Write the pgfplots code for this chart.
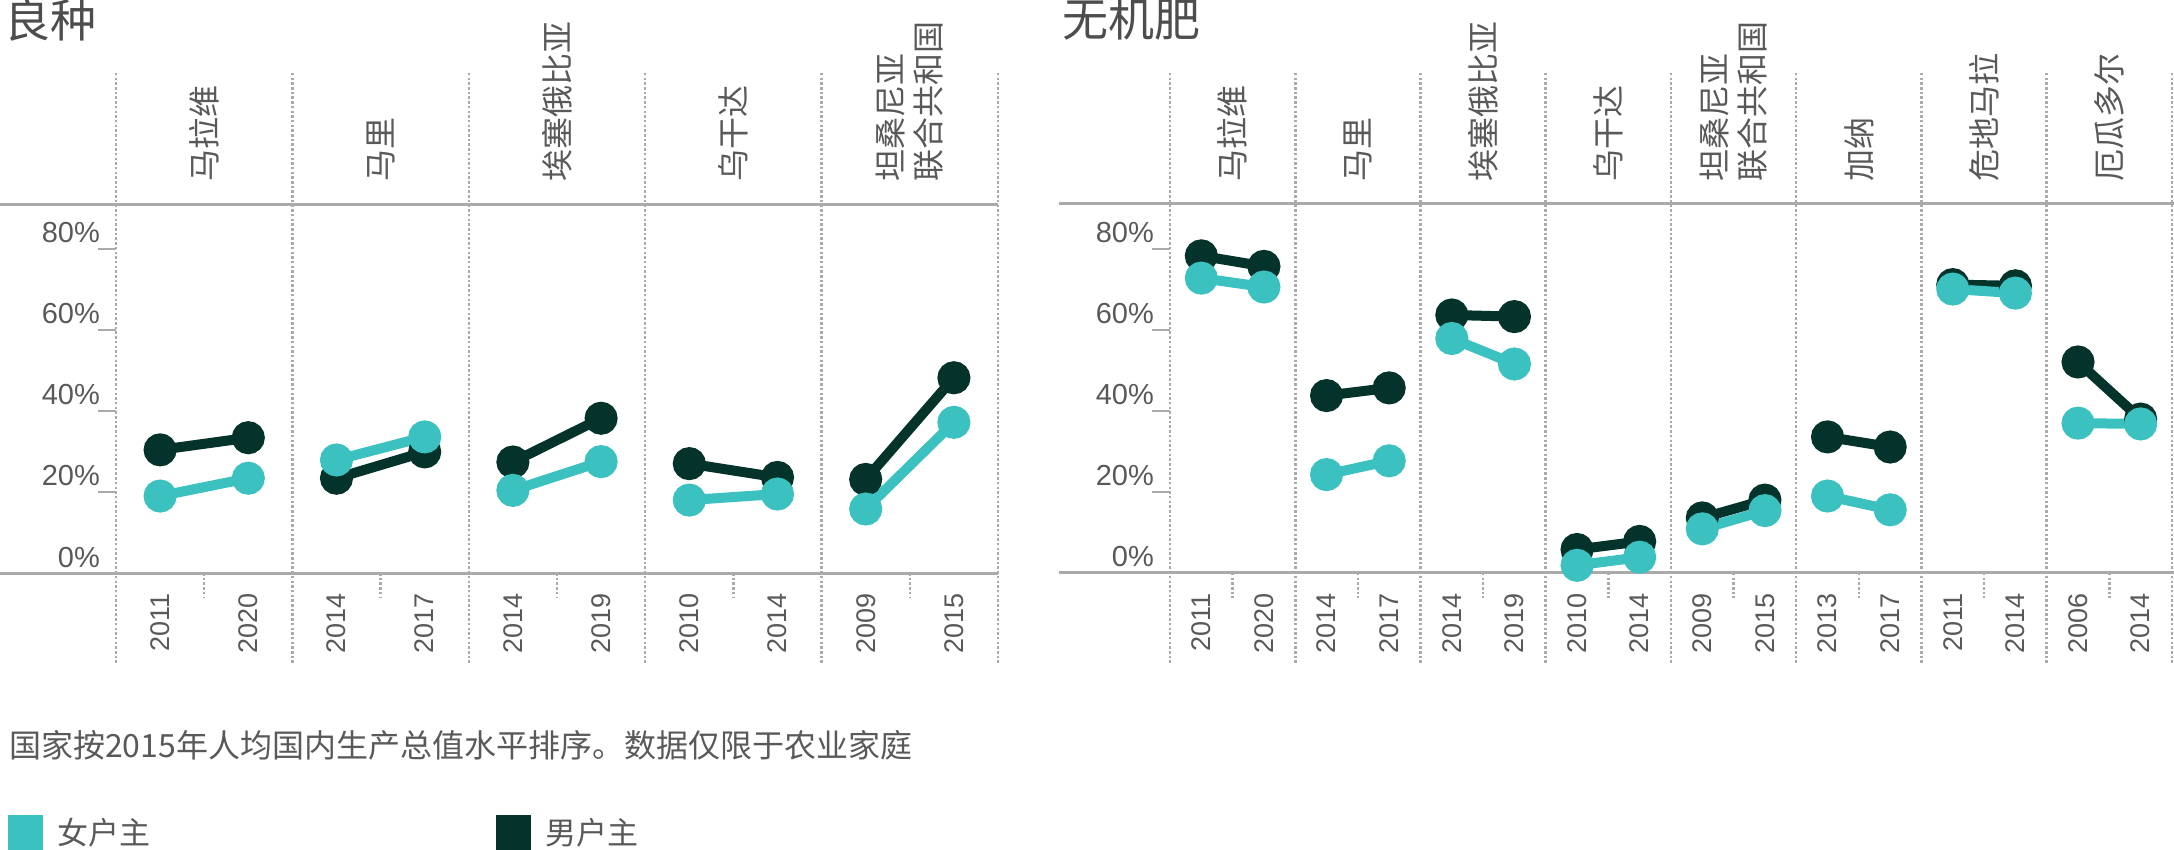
\documentclass[border=0pt]{standalone}
\usepackage{pgfplots}
\pgfplotsset{compat=1.18}
\usepackage{pgfplotstable}
\usepackage{fontspec}
\setmainfont{Noto Sans CJK SC}
\newfontfamily\latin{Liberation Sans}
\definecolor{femc}{HTML}{3BC1BF}
\definecolor{malec}{HTML}{03332A}
\definecolor{txt}{HTML}{595959}
\definecolor{ttl}{HTML}{4D4D4D}
\definecolor{sepc}{HTML}{AAAAAA}

\pgfplotstableread{
x f m
0.25 19.0 30.4
0.75 23.4 33.4
1.0 nan nan
1.25 27.9 23.4
1.75 33.6 29.9
2.0 nan nan
2.25 20.4 27.4
2.75 27.5 38.2
3.0 nan nan
3.25 18.0 27.0
3.75 19.5 23.6
4.0 nan nan
4.25 15.8 23.1
4.75 37.2 48.2
}\seeds

\pgfplotstableread{
x f m
0.25 72.8 78.3
0.75 70.6 75.7
1.0 nan nan
1.25 24.3 43.8
1.75 27.7 45.7
2.0 nan nan
2.25 57.9 63.7
2.75 51.6 63.3
3.0 nan nan
3.25 1.9 5.8
3.75 3.9 7.8
4.0 nan nan
4.25 10.9 13.6
4.75 15.4 18.0
5.0 nan nan
5.25 19.0 33.6
5.75 15.6 31.1
6.0 nan nan
6.25 70.1 71.2
6.75 69.1 70.9
7.0 nan nan
7.25 37.0 52.1
7.75 36.8 38.0
}\fert

\tikzset{
  sepline/.style={draw=sepc, line width=2.5pt, dash pattern=on 2.5pt off 2.2pt},
  hline/.style={draw=sepc, line width=3pt},
  cname/.style={rotate=90, anchor=west, inner sep=0pt, text=txt, align=left,
    font=\fontsize{32}{38}\selectfont},
}

\pgfplotsset{
  panel/.style={
    scale only axis, height=369pt, ymin=0, ymax=91.1, clip=false,
    axis lines*=left, axis line style={draw=none},
    ytick={0,20,40,60,80}, yticklabels={0\%,20\%,40\%,60\%,80\%},
    yticklabel style={anchor=base east, inner sep=0pt, xshift=2pt, yshift=6pt,
      font=\latin\fontsize{29}{29}\selectfont, text=txt},
    major tick length=18pt, tick align=outside,
    ytick style={draw=sepc, line width=1.6pt},
    xtick style={draw=none},
    xticklabel style={rotate=90, anchor=east, inner sep=0pt,
      font=\latin\fontsize{27}{27}\selectfont, text=txt},
    xticklabel shift=2pt,
    unbounded coords=jump,
  },
  fser/.style={forget plot, color=femc, line width=10pt, mark=*, mark size=11.5pt,
    mark options={draw=none, fill=femc}},
  mser/.style={forget plot, color=malec, line width=10pt, mark=*, mark size=11.5pt,
    mark options={draw=none, fill=malec}},
}

\begin{document}
\begin{tikzpicture}
\useasboundingbox (0pt,0pt) rectangle (2174pt,849pt);

% Left panel: improved seeds
\begin{axis}[panel, width=882pt, at={(116pt,276pt)}, anchor=south west,
  xmin=0, xmax=5,
  xtick={0.25,0.75,1.25,1.75,2.25,2.75,3.25,3.75,4.25,4.75},
  xticklabels={2011,2020,2014,2017,2014,2019,2010,2014,2009,2015},
  legend columns=2,
  legend style={at={(-0.1224,-0.748)}, anchor=south west, draw=none, fill=none,
    inner sep=0pt, outer sep=0pt, text=txt, font=\fontsize{31}{31}\selectfont,
    nodes={inner sep=0pt},
    /tikz/every odd column/.append style={column sep=15pt},
    /tikz/every even column/.append style={column sep=346pt}},
]
\pgfplotsinvokeforeach{0,1,2,3,4,5}{\draw[sepline] (#1,-22.2) -- (#1,124);}
\pgfplotsinvokeforeach{0.5,1.5,2.5,3.5,4.5}{\draw[sepline] (#1,0) -- (#1,-6.2);}
\draw[hline] (-0.658,0) -- (5,0);
\draw[hline] (-0.658,91.1) -- (5,91.1);
\node[cname] at (0.5,96.5) {马拉维};
\node[cname] at (1.5,96.5) {马里};
\node[cname] at (2.5,96.5) {埃塞俄比亚};
\node[cname] at (3.5,96.5) {乌干达};
\node[cname] at (4.5,96.5) {坦桑尼亚\\联合共和国};
\addplot[mser] table[x=x, y=m] {\seeds};
\addplot[fser] table[x=x, y=f] {\seeds};
\addlegendimage{legend image code/.code={\fill[femc] (0pt,-17pt) rectangle (34pt,17pt);}}
\addlegendentry{女户主}
\addlegendimage{legend image code/.code={\fill[malec] (0pt,-17pt) rectangle (34pt,17pt);}}
\addlegendentry{男户主}
\end{axis}

% Right panel: inorganic fertilizer
\begin{axis}[panel, width=1002pt, at={(1170pt,276pt)}, anchor=south west,
  xmin=0, xmax=8,
  xtick={0.25,0.75,1.25,1.75,2.25,2.75,3.25,3.75,4.25,4.75,5.25,5.75,6.25,6.75,7.25,7.75},
  xticklabels={2011,2020,2014,2017,2014,2019,2010,2014,2009,2015,2013,2017,2011,2014,2006,2014},
]
\pgfplotsinvokeforeach{0,1,2,3,4,5,6,7,8}{\draw[sepline] (#1,-22.2) -- (#1,124);}
\pgfplotsinvokeforeach{0.5,1.5,2.5,3.5,4.5,5.5,6.5,7.5}{\draw[sepline] (#1,0) -- (#1,-6.2);}
\draw[hline] (-0.886,0) -- (8.02,0);
\draw[hline] (-0.886,91.1) -- (8.02,91.1);
\node[cname] at (0.5,96.5) {马拉维};
\node[cname] at (1.5,96.5) {马里};
\node[cname] at (2.5,96.5) {埃塞俄比亚};
\node[cname] at (3.5,96.5) {乌干达};
\node[cname] at (4.5,96.5) {坦桑尼亚\\联合共和国};
\node[cname] at (5.5,96.5) {加纳};
\node[cname] at (6.5,96.5) {危地马拉};
\node[cname] at (7.5,96.5) {厄瓜多尔};
\addplot[mser] table[x=x, y=m] {\fert};
\addplot[fser] table[x=x, y=f] {\fert};
\end{axis}

\node[anchor=north west, inner sep=0pt, text=ttl, font=\fontsize{46}{46}\selectfont] at (4pt,851pt) {良种};
\node[anchor=north west, inner sep=0pt, text=ttl, font=\fontsize{46}{46}\selectfont] at (1062pt,851pt) {无机肥};
\node[anchor=west, inner sep=0pt, text=txt, font=\fontsize{32}{32}\selectfont] at (9pt,104pt) {国家按2015年人均国内生产总值水平排序。数据仅限于农业家庭};
\end{tikzpicture}
\end{document}
